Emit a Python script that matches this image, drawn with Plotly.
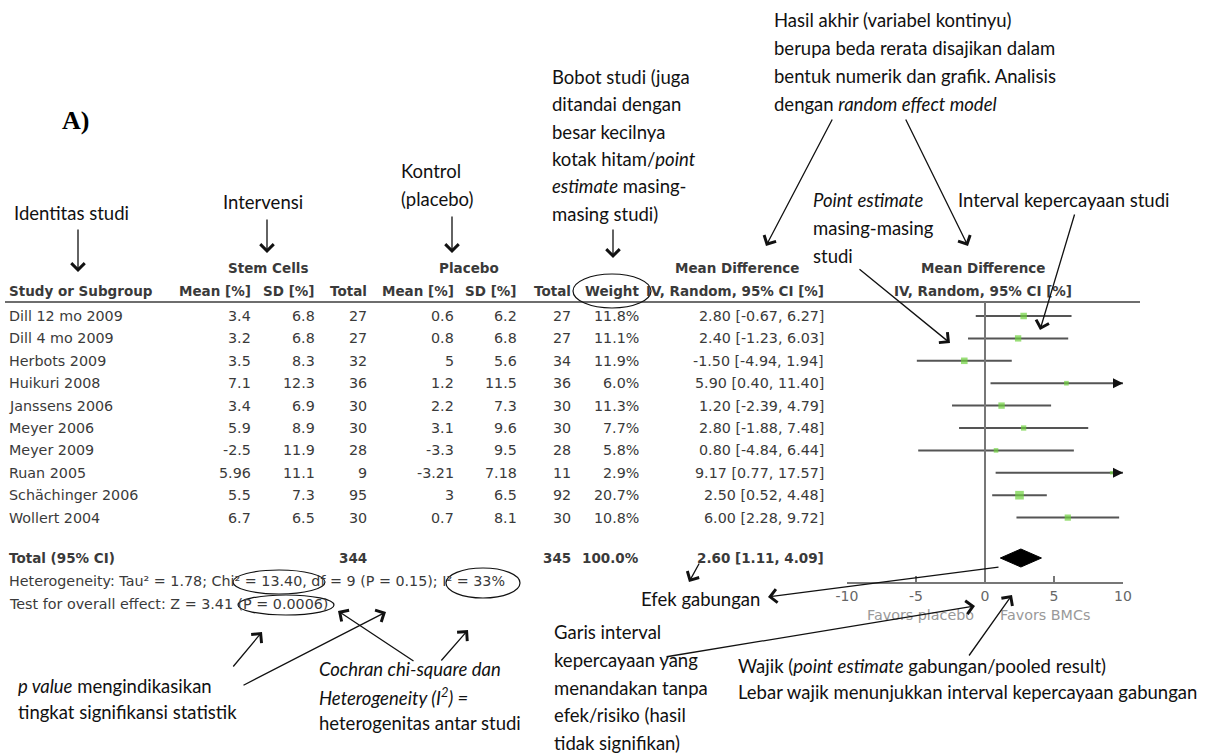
import plotly.graph_objects as go

W, H = 1224, 756

# ---- study data -------------------------------------------------------
studies = ["Dill 12 mo 2009", "Dill 4 mo 2009", "Herbots 2009", "Huikuri 2008",
           "Janssens 2006", "Meyer 2006", "Meyer 2009", "Ruan 2005",
           "Schächinger 2006", "Wollert 2004"]
stem_mean = [3.4, 3.2, 3.5, 7.1, 3.4, 5.9, -2.5, 5.96, 5.5, 6.7]
stem_sd = [6.8, 6.8, 8.3, 12.3, 6.9, 8.9, 11.9, 11.1, 7.3, 6.5]
stem_n = [27, 27, 32, 36, 30, 30, 28, 9, 95, 30]
plac_mean = [0.6, 0.8, 5, 1.2, 2.2, 3.1, -3.3, -3.21, 3, 0.7]
plac_sd = [6.2, 6.8, 5.6, 11.5, 7.3, 9.6, 9.5, 7.18, 6.5, 8.1]
plac_n = [27, 27, 34, 36, 30, 30, 28, 11, 92, 30]
weight = [11.8, 11.1, 11.9, 6.0, 11.3, 7.7, 5.8, 2.9, 20.7, 10.8]
md = [2.80, 2.40, -1.50, 5.90, 1.20, 2.80, 0.80, 9.17, 2.50, 6.00]
md_lo = [-0.67, -1.23, -4.94, 0.40, -2.39, -1.88, -4.84, 0.77, 0.52, 2.28]
md_hi = [6.27, 6.03, 1.94, 11.40, 4.79, 7.48, 6.44, 17.57, 4.48, 9.72]

total_stem, total_plac = 344, 345
pooled, pooled_lo, pooled_hi = 2.60, 1.11, 4.09
heterogeneity = "Heterogeneity: Tau² = 1.78; Chi² = 13.40, df = 9 (P = 0.15); I² = 33%"
overall_test = "Test for overall effect: Z = 3.41 (P = 0.0006)"

axis_ticks = [-10, -5, 0, 5, 10]
axis_min, axis_max = -10, 10

# ---- layout helpers (pixel -> paper) ----------------------------------
def px(x):
    return x / W


def py(y):
    return 1 - y / H


TABLE_FONT = "DejaVu Sans"
NOTE_FONT = "Lato"
TXT = "#3a3a3a"

row_y0, row_step = 316, 22.4
row_y = [row_y0 + row_step * i for i in range(len(studies))]
y_total, y_het, y_test = 558, 581, 604
y_axis = 583

annotations = []
shapes = []


def text(x, y, s, anchor="left", size=14.3, bold=False, color=TXT, family=TABLE_FONT):
    if bold:
        s = "<b>" + s + "</b>"
        size = min(size, 13.5)
    annotations.append(dict(x=px(x), y=py(y), xref="paper", yref="paper",
                            text=s, showarrow=False, xanchor=anchor, yanchor="middle",
                            borderpad=0,
                            font=dict(family=family, size=size, color=color)))


def note(x, y, s, size=18.5):
    text(x, y, s, size=size, color="#111", family=NOTE_FONT)


def arrow(tail, head, width=1.3):
    annotations.append(dict(x=px(head[0]), y=py(head[1]), xref="paper", yref="paper",
                            ax=tail[0] - head[0], ay=tail[1] - head[1],
                            text="", showarrow=True, arrowhead=4, arrowsize=2.0,
                            arrowwidth=width, arrowcolor="#111", standoff=0))


def ellipse(cx, cy, rx, ry):
    shapes.append(dict(type="circle", xref="paper", yref="paper",
                       x0=px(cx - rx), x1=px(cx + rx), y0=py(cy + ry), y1=py(cy - ry),
                       line=dict(color="#111", width=1.2)))


# ---- column positions (right edges) -----------------------------------
c_name = 8
c_smean, c_ssd, c_sn = 252, 316, 368
c_pmean, c_psd, c_pn = 455, 518, 572
c_w, c_ci = 640, 825
c_plot = 983

# headers
text(268, 268, "Stem Cells", "center", bold=True)
text(469, 268, "Placebo", "center", bold=True)
text(737, 268, "Mean Difference", "center", bold=True)
text(c_plot, 268, "Mean Difference", "center", bold=True)
text(c_name, 291, "Study or Subgroup", bold=True)
for x, s in [(c_smean, "Mean [%]"), (c_ssd, "SD [%]"), (c_sn, "Total"),
             (c_pmean, "Mean [%]"), (c_psd, "SD [%]"), (c_pn, "Total"),
             (c_w, "Weight"), (c_ci, "IV, Random, 95% CI [%]")]:
    text(x, 291, s, "right", bold=True)
text(c_plot, 291, "IV, Random, 95% CI [%]", "center", bold=True)

shapes.append(dict(type="line", xref="paper", yref="paper", x0=px(5), x1=px(1140),
                   y0=py(302), y1=py(302), line=dict(color="#6e6e6e", width=2)))

# study rows
for i, name in enumerate(studies):
    y = row_y[i]
    text(c_name, y, name)
    text(c_smean, y, f"{stem_mean[i]:g}", "right")
    text(c_ssd, y, f"{stem_sd[i]:g}", "right")
    text(c_sn, y, f"{stem_n[i]}", "right")
    text(c_pmean, y, f"{plac_mean[i]:g}", "right")
    text(c_psd, y, f"{plac_sd[i]:g}", "right")
    text(c_pn, y, f"{plac_n[i]}", "right")
    text(c_w, y, f"{weight[i]:.1f}%", "right")
    text(c_ci, y, f"{md[i]:.2f} [{md_lo[i]:.2f}, {md_hi[i]:.2f}]", "right")

# totals
text(c_name, y_total, "Total (95% CI)", bold=True)
text(c_sn, y_total, f"{total_stem}", "right", bold=True)
text(c_pn, y_total, f"{total_plac}", "right", bold=True)
text(c_w, y_total, f"{sum(weight):.1f}%", "right", bold=True)
text(c_ci, y_total, f"{pooled:.2f} [{pooled_lo:.2f}, {pooled_hi:.2f}]", "right", bold=True)
text(c_name, y_het, heterogeneity)
text(c_name, y_test, overall_test)

# ---- forest plot -------------------------------------------------------
fig = go.Figure()

# line of no effect
shapes.append(dict(type="line", xref="x", yref="y", x0=0, x1=0, y0=302, y1=y_axis,
                   line=dict(color="#777", width=2)))

# confidence intervals (clipped to the axis range)
ci_x, ci_y = [], []
for i in range(len(studies)):
    ci_x += [max(md_lo[i], axis_min), min(md_hi[i], axis_max), None]
    ci_y += [row_y[i], row_y[i], None]
fig.add_trace(go.Scatter(x=ci_x, y=ci_y, mode="lines",
                         line=dict(color="#555", width=2), hoverinfo="skip"))

# arrows where an interval runs past the axis
for i in range(len(studies)):
    if md_hi[i] > axis_max:
        annotations.append(dict(x=axis_max, y=row_y[i], xref="x", yref="y",
                                ax=axis_max - 0.6, ay=row_y[i], axref="x", ayref="y",
                                text="", showarrow=True, arrowhead=2, arrowsize=1.0,
                                arrowwidth=2, arrowcolor="#111", standoff=0))

# point estimates, box size by weight
fig.add_trace(go.Scatter(x=md, y=row_y, mode="markers",
                         marker=dict(symbol="square", color="#6fd13e",
                                     size=[1.9 * w ** 0.5 for w in weight],
                                     line=dict(width=0)),
                         hoverinfo="skip"))

# pooled diamond
dh = 9
fig.add_trace(go.Scatter(x=[pooled_lo, pooled, pooled_hi, pooled, pooled_lo],
                         y=[y_total, y_total - dh, y_total, y_total + dh, y_total],
                         mode="lines", fill="toself", fillcolor="#000",
                         line=dict(color="#000", width=1), hoverinfo="skip"))

text(920, 615, "Favors placebo", "center", color="#999")
text(1045, 615, "Favors BMCs", "center", color="#999")

# ---- explanatory notes --------------------------------------------------
annotations.append(dict(x=px(61), y=py(120), xref="paper", yref="paper", text="<b>A)</b>",
                        showarrow=False, xanchor="left", yanchor="middle", borderpad=0,
                        font=dict(family="Liberation Serif", size=26, color="#000")))

note(13, 213, "Identitas studi")
note(222, 202, "Intervensi")
note(400, 171, "Kontrol")
note(400, 199, "(placebo)")

for k, s in enumerate(["Bobot studi (juga", "ditandai dengan", "besar kecilnya",
                       "kotak hitam/<i>point</i>", "<i>estimate</i> masing-", "masing studi)"]):
    note(551, 77 + 27.3 * k, s)

for k, s in enumerate(["Hasil akhir (variabel kontinyu)", "berupa beda rerata disajikan dalam",
                       "bentuk numerik dan grafik. Analisis", "dengan <i>random effect model</i>"]):
    note(773, 20 + 28 * k, s)

for k, s in enumerate(["<i>Point estimate</i>", "masing-masing", "studi"]):
    note(812, 200 + 28 * k, s)
note(957, 200, "Interval kepercayaan studi")

note(640, 599, "Efek gabungan")
for k, s in enumerate(["Garis interval", "kepercayaan yang", "menandakan tanpa",
                       "efek/risiko (hasil", "tidak signifikan)"]):
    note(553, 632 + 27.8 * k, s)
note(737, 666, "Wajik (<i>point estimate</i> gabungan/pooled result)")
note(737, 692, "Lebar wajik menunjukkan interval kepercayaan gabungan")

note(17, 686, "<i>p value</i> mengindikasikan")
note(17, 712, "tingkat signifikansi statistik")
note(318, 669, "<i>Cochran chi-square dan</i>")
note(318, 696, "<i>Heterogeneity (I<sup>2</sup>) =</i>")
note(318, 723, "heterogenitas antar studi")

ellipse(612, 291, 39, 17)
ellipse(279, 582, 46, 12)
ellipse(483, 583, 37, 15)
ellipse(286, 605, 48, 10)

arrow((78, 228), (78, 272))
arrow((267, 218), (267, 253))
arrow((452, 215), (452, 253))
arrow((613, 228), (613, 258))
arrow((833, 118), (766, 246))
arrow((905, 118), (968, 246))
arrow((858, 268), (950, 343))
arrow((1075, 213), (1040, 330))
arrow((1000, 567), (768, 597))
arrow((700, 562), (689, 582))
arrow((665, 657), (975, 606))
arrow((968, 657), (1012, 595))
arrow((232, 668), (262, 632))
arrow((242, 686), (386, 612))
arrow((415, 662), (338, 611))
arrow((440, 662), (468, 630))

fig.update_layout(
    template="none",
    width=W, height=H, margin=dict(l=0, r=0, t=0, b=0, pad=0, autoexpand=False),
    paper_bgcolor="white", plot_bgcolor="rgba(0,0,0,0)", showlegend=False,
    xaxis=dict(domain=[px(847), px(1123)], range=[axis_min, axis_max],
               anchor="free", position=py(y_axis),
               tickvals=axis_ticks, ticktext=[str(t) for t in axis_ticks],
               automargin=False,
               showline=True, linecolor="#777", linewidth=2,
               ticks="inside", ticklen=6, tickwidth=2, tickcolor="#777",
               showgrid=False, zeroline=False,
               tickfont=dict(family=TABLE_FONT, size=14, color="#666")),
    yaxis=dict(domain=[0, 1], range=[H, 0], visible=False, showgrid=False,
               automargin=False),
    annotations=annotations, shapes=shapes,
)

fig.write_html("out.html")
